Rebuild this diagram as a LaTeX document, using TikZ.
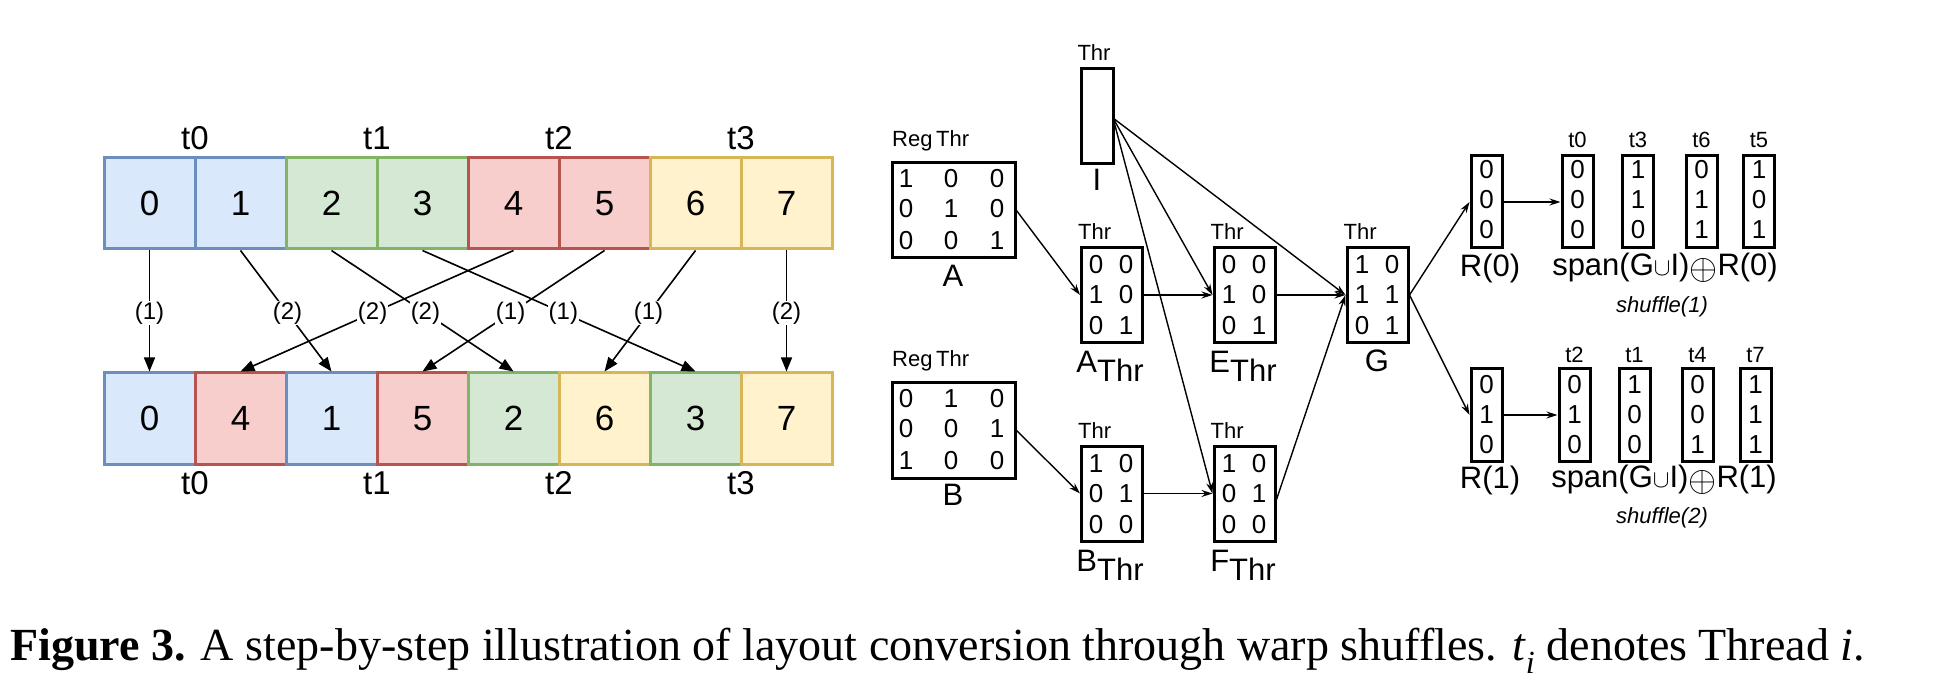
\documentclass[tikz,border=0pt]{standalone}
\usepackage{fontspec}
\setmainfont{Liberation Sans}
\newfontfamily\capfont{Liberation Serif}
\usetikzlibrary{arrows.meta}
\definecolor{bF}{HTML}{DAE8FC}\definecolor{bD}{HTML}{6C8EBF}
\definecolor{gF}{HTML}{D5E8D4}\definecolor{gD}{HTML}{82B366}
\definecolor{rF}{HTML}{F8CECC}\definecolor{rD}{HTML}{B85450}
\definecolor{yF}{HTML}{FFF2CC}\definecolor{yD}{HTML}{D6B656}
\tikzset{
 cell/.style={draw=#1D,fill=#1F,line width=3pt,minimum width=91pt,minimum height=91pt,inner sep=0pt,font=\fontsize{35}{40}\selectfont},
 tl/.style={font=\fontsize{33}{38}\selectfont,inner sep=0pt},
 sarr/.style={line width=1.6pt,-{Triangle[length=14pt,width=11pt]}},
 slab/.style={fill=white,inner sep=1pt,font=\fontsize{24}{28}\selectfont,pos=0.516},
 box/.style={draw,line width=3pt,inner sep=0pt},
 dig/.style={font=\fontsize{26}{30}\selectfont,inner sep=0pt},
 sm/.style={font=\fontsize{22}{26}\selectfont,inner sep=0pt},
 big/.style={font=\fontsize{31}{34}\selectfont,inner sep=0pt},
 rarr/.style={line width=1.4pt,-{Stealth[length=11pt,width=7pt]}},
}
\newcommand\myoplus{\raisebox{-0.12em}{\scalebox{1.45}{$\oplus$}}}
\begin{document}
\begin{tikzpicture}[x=1pt,y=-1pt]
\useasboundingbox (0,0) rectangle (1960,700);
% left: shuffle rows
\foreach \i/\c in {0/b,1/b,2/g,3/g,4/r,5/r,6/y,7/y}
  \node[cell=\c] (T\i) at (149.5+91*\i,203.5) {\i};
\foreach \p/\v/\c in {0/0/b,1/4/r,2/1/b,3/5/r,4/2/g,5/6/y,6/3/g,7/7/y}
  \node[cell=\c] (B\v) at (149.5+91*\p,418.5) {\v};
\foreach \k in {0,1,2,3}{
  \node[tl] at (195+182*\k,138) {t\k};
  \node[tl] at (195+182*\k,483) {t\k};}
\foreach \i/\l in {0/1,1/2,2/2,3/1,4/2,5/1,6/1,7/2}
  \draw[sarr] (T\i.south) -- node[slab]{(\l)} (B\i.north);
% right: matrices
\node[box,minimum width=123pt,minimum height=95pt] (A) at (953.5,210.5) {};
\node[box,minimum width=123pt,minimum height=95pt] (B) at (953.5,430.5) {};
\node[sm,anchor=west] at (892,141) {Reg\,Thr};
\node[sm,anchor=west] at (892,361) {Reg\,Thr};
\node[big] at (953,276) {A};
\node[big] at (953,495) {B};
\foreach \x/\y/\t in {906/179/1,951/179/0,997/179/0,906/209/0,951/209/1,997/209/0,906/241/0,951/241/0,997/241/1,
  906/399/0,951/399/1,997/399/0,906/429/0,951/429/0,997/429/1,906/461/1,951/461/0,997/461/0}
  \node[dig] at (\x,\y) {\t};
\node[box,minimum width=32pt,minimum height=95pt] (I) at (1097,116.5) {};
\node[sm] at (1094,53) {Thr};
\node[big] at (1097,180) {I};
\coordinate (Io) at (1113,118);
\foreach \n/\cx/\cy in {AT/1112/295,ET/1244.5/295,G/1377.5/295,BT/1112/493.5,FT/1244.5/493.5}{
  \node[box,minimum width=61pt,minimum height=95pt] (\n) at (\cx,\cy) {};
  \node[sm,anchor=south west] at ([shift={(-2,-6)}]\n.north west) {Thr};}
\foreach \x/\y/\t in {1096/265/0,1126/265/0,1096/295/1,1126/295/0,1096/326/0,1126/326/1,
  1229/265/0,1259/265/0,1229/295/1,1259/295/0,1229/326/0,1259/326/1,
  1362/265/1,1392/265/0,1362/295/1,1392/295/1,1362/326/0,1392/326/1,
  1096/464/1,1126/464/0,1096/494/0,1126/494/1,1096/525/0,1126/525/0,
  1229/464/1,1259/464/0,1229/494/0,1259/494/1,1229/525/0,1259/525/0}
  \node[dig] at (\x,\y) {\t};
\node[big,anchor=north] at (1110,351) {A\raisebox{-9pt}{Thr}};
\node[big,anchor=north] at (1243,351) {E\raisebox{-9pt}{Thr}};
\node[big] at (1377,361) {G};
\node[big,anchor=north] at (1110,550) {B\raisebox{-9pt}{Thr}};
\node[big,anchor=north] at (1243,550) {F\raisebox{-9pt}{Thr}};
\draw[rarr] (A.east) -- (AT.west);
\draw[rarr] (B.east) -- (BT.west);
\draw[rarr] (AT.east) -- (ET.west);
\draw[rarr] (BT.east) -- (FT.west);
\draw[rarr] (ET.east) -- (G.west);
\draw[rarr] ([yshift=-6pt]FT.east) -- (G.west);
\draw[rarr] (Io) -- (G.west);
\draw[rarr] (Io) -- (ET.west);
\draw[rarr] (Io) -- (FT.west);
% R vectors
\node[box,minimum width=31pt,minimum height=92pt] (R0) at (1486.5,202) {};
\node[box,minimum width=31pt,minimum height=92pt] (R1) at (1486.5,415) {};
\draw[rarr] (G.east) -- (R0.west);
\draw[rarr] (G.east) -- (R1.west);
\foreach \n/\cx/\tl/\a/\b/\c in {S0/1577.5/t0/0/0/0,S3/1638/t3/1/1/0,S6/1701.5/t6/0/1/1,S5/1759/t5/1/0/1}{
  \node[box,minimum width=31pt,minimum height=92pt] (\n) at (\cx,202) {};
  \node[sm] at (\cx,140) {\tl};
  \node[dig] at (\cx,170) {\a};\node[dig] at (\cx,200) {\b};\node[dig] at (\cx,230) {\c};}
\foreach \n/\cx/\tl/\a/\b/\c in {U2/1574.5/t2/0/1/0,U1/1634.5/t1/1/0/0,U4/1697.5/t4/0/0/1,U7/1755.5/t7/1/1/1}{
  \node[box,minimum width=31pt,minimum height=92pt] (\n) at (\cx,415) {};
  \node[sm] at (\cx,355) {\tl};
  \node[dig] at (\cx,385) {\a};\node[dig] at (\cx,415) {\b};\node[dig] at (\cx,445) {\c};}
\foreach \y/\t in {170/0,200/0,230/0} \node[dig] at (1486.5,\y) {\t};
\foreach \y/\t in {385/0,415/1,445/0} \node[dig] at (1486.5,\y) {\t};
\draw[rarr] (R0.east) -- (S0.west);
\draw[rarr] (R1.east) -- (U2.west);
\node[big] at (1490,268) {R(0)};
\node[big] at (1490,480) {R(1)};
\node[big] at (1665,268) {span(G$\cup$I)\myoplus R(0)};
\node[big] at (1664,480) {span(G$\cup$I)\myoplus R(1)};
\node[sm,font=\fontsize{22}{26}\selectfont\itshape] at (1662,307) {shuffle(1)};
\node[sm,font=\fontsize{22}{26}\selectfont\itshape] at (1662,518) {shuffle(2)};
% caption
\node[anchor=west,inner sep=0pt,font=\capfont\fontsize{46}{52}\selectfont] at (10,651)
  {\textbf{Figure 3.} A step-by-step illustration of layout conversion through warp shuffles. \textit{t}\textsubscript{\textit{i}} denotes Thread \textit{i}.};
\end{tikzpicture}
\end{document}
